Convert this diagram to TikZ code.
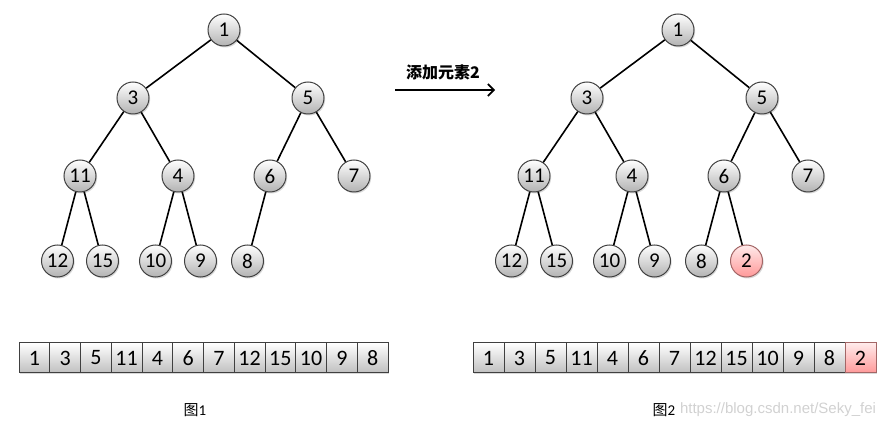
\documentclass[tikz,border=0pt]{standalone}
\usepackage{fontspec}
\setmainfont{Carlito}
\newfontfamily\cjk{Noto Sans CJK SC}
\newfontfamily\wmfont{Liberation Sans}
\usetikzlibrary{shadows,arrows.meta}
\tikzset{% 
  heap/.style = {
    level 1/.style = {level distance=68pt, sibling distance=176pt},
    level 2/.style = {level distance=78pt, sibling distance=92pt},
    level 3/.style = {level distance=85pt, sibling distance=45pt},
    every node/.style = {ball},
    edge from parent/.style = {draw, line width=1.6pt}
  },
  ball/.style = {circle, draw=black!75, line width=1pt,
    minimum size=32pt, inner sep=0pt,
    top color=white, bottom color=black!30,
    font=\fontsize{21}{21}\selectfont,
    drop shadow={opacity=0.3, shadow xshift=1.2pt, shadow yshift=-1.5pt}},
  newball/.style = {top color=red!8, bottom color=red!40, draw=red!40!black!60},
  cell/.style = {rectangle, draw=black!75, line width=1pt,
    minimum height=30pt, inner sep=0pt,
    top color=white, bottom color=black!25,
    font=\fontsize{22}{22}\selectfont,
    drop shadow={opacity=0.3, shadow xshift=1.2pt, shadow yshift=-1.5pt}},
  caption/.style = {font=\fontsize{15}{15}\selectfont}
}

\begin{document}
\begin{tikzpicture}[x=1pt, y=1pt]
  \useasboundingbox (0,0) rectangle (892,-427);

  % heap before insertion
  \begin{scope}[heap]
    \node (a1) at (224,-30) {1}
    child[xshift=-3pt] {
      node (a3) {3}
      child[xshift=-7pt] { node (a11) {11}
        child { node (a12) {12} }
        child { node (a15) {15} }
      }
      child[xshift=-1pt] { node (a4) {4}
        child { node (a10) {10} }
        child { node (a9) {9} }
      }
    }
    child[xshift=-4pt] {
      node (a5) {5}
      child[xshift=8pt] { node (a6) {6}
        child { node (a8) {8} }
        child[missing]
      }
      child { node (a7) {7} }
    };
  \end{scope}

  % heap after adding 2
  \begin{scope}[heap]
    \node (b1) at (678,-30) {1}
    child[xshift=-3pt] {
      node (b3) {3}
      child[xshift=-7pt] { node (b11) {11}
        child { node (b12) {12} }
        child { node (b15) {15} }
      }
      child[xshift=-1pt] { node (b4) {4}
        child { node (b10) {10} }
        child { node (b9) {9} }
      }
    }
    child[xshift=-4pt] {
      node (b5) {5}
      child[xshift=8pt] { node (b6) {6}
        child { node (b8) {8} }
        child { node[newball] (b2) {2} }
      }
      child { node (b7) {7} }
    };
  \end{scope}

  % arrow
  \coordinate (arrfrom) at (395,-90);
  \coordinate (arrto) at (495,-90);
  \draw[line width=1.6pt, -{Straight Barb[length=6pt, width=12pt]}] (arrfrom) -- (arrto);
  \node[font=\cjk\bfseries\fontsize{16}{16}\selectfont] (addlbl) at (443,-72) {添加元素2};

  % arrays
  \foreach \v [count=\i] in {1,3,5,11,4,6,7,12,15,10,9,8}
    \node[cell, minimum width=30.75pt] (la\i) at ({19+30.75*(\i-0.5)},-358) {\v};
  \foreach \v [count=\i] in {1,3,5,11,4,6,7,12,15,10,9,8}
    \node[cell, minimum width=31pt] (ra\i) at ({473+31*(\i-0.5)},-358) {\v};
  \node[cell, newball, minimum width=31pt] (ra13) at ({473+31*12.5},-358) {2};

  % captions
  \node[caption] (cap1) at (195,-410) {{\cjk 图}1};
  \node[caption] (cap2) at (664,-410) {{\cjk 图}2};
  \node[anchor=west, inner sep=0pt, text=black!18,
    font=\wmfont\fontsize{15}{15}\selectfont] (wm) at ([xshift=1pt]cap2.east) {https://blog.csdn.net/Seky\_fei};
\end{tikzpicture}
\end{document}
